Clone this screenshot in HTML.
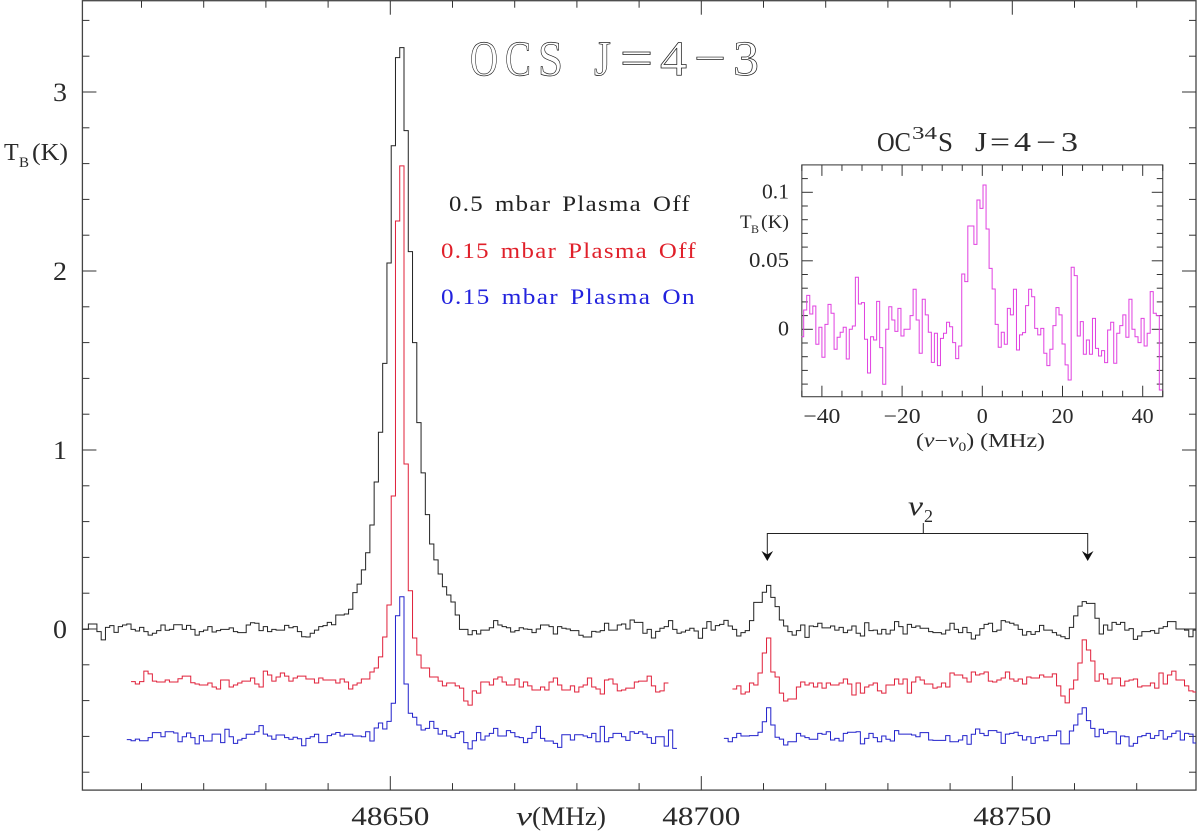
<!DOCTYPE html>
<html lang="en">
<head>
<meta charset="utf-8">
<title>OCS J=4-3 spectra</title>
<style>
html,body{margin:0;padding:0;background:#fff;}
#chart{display:block;width:1200px;height:832px;}
text{font-family:"Liberation Serif","DejaVu Serif",serif;fill:#2a2a2a;}
.hollow{fill:#fff;stroke:#222;stroke-width:.7;}
.spaced{letter-spacing:1.2px;word-spacing:3px;}
</style>
</head>
<body>
<svg id="chart" xmlns="http://www.w3.org/2000/svg" width="1200" height="832" viewBox="0 0 1200 832">
  <defs>
    <clipPath id="main-clip"><rect x="82.5" y="0" width="1113.5" height="791"></rect></clipPath>
    <clipPath id="inset-clip"><rect x="801.3" y="164.7" width="361.4" height="232"></rect></clipPath>
  </defs>
  <rect x="0" y="0" width="1200" height="832" fill="#fff"></rect>
  <g id="main-axes"></g>
  <g id="main-series" clip-path="url(#main-clip)"></g>
  <g id="inset-axes"></g>
  <g id="inset-series" clip-path="url(#inset-clip)"></g>

  <g font-size="50">
    <text class="hollow" x="470" y="75" textLength="28" lengthAdjust="spacingAndGlyphs">O</text>
    <text class="hollow" x="505" y="75" textLength="26" lengthAdjust="spacingAndGlyphs">C</text>
    <text class="hollow" x="538" y="75" textLength="25" lengthAdjust="spacingAndGlyphs">S</text>
    <text class="hollow" x="594" y="75" textLength="17" lengthAdjust="spacingAndGlyphs">J</text>
    <text class="hollow" x="620" y="75" textLength="33" lengthAdjust="spacingAndGlyphs">=</text>
    <text class="hollow" x="660" y="75" textLength="27" lengthAdjust="spacingAndGlyphs">4</text>
    <text class="hollow" x="694" y="75" textLength="32" lengthAdjust="spacingAndGlyphs">−</text>
    <text class="hollow" x="733" y="75" textLength="26" lengthAdjust="spacingAndGlyphs">3</text>
  </g>

  <text class="spaced" x="449" y="211" font-size="22" textLength="242" lengthAdjust="spacingAndGlyphs" style="fill:#222">0.5 mbar Plasma Off</text>
  <text class="spaced" x="441" y="258" font-size="22" textLength="256" lengthAdjust="spacingAndGlyphs" style="fill:#e0202a">0.15 mbar Plasma Off</text>
  <text class="spaced" x="441" y="304" font-size="22" textLength="255" lengthAdjust="spacingAndGlyphs" style="fill:#2222dd">0.15 mbar Plasma On</text>

  <g>
    <text x="4" y="160" font-size="24">T</text>
    <text x="19" y="167" font-size="15">B</text>
    <text x="32" y="160" font-size="24" textLength="36" lengthAdjust="spacingAndGlyphs">(K)</text>
  </g>
  <g>
    <text x="516" y="825" font-size="26" font-style="italic" textLength="16" lengthAdjust="spacingAndGlyphs">ν</text>
    <text x="532" y="825" font-size="26" textLength="74" lengthAdjust="spacingAndGlyphs">(MHz)</text>
  </g>

  <g font-size="27">
    <text x="877" y="151" textLength="34" lengthAdjust="spacingAndGlyphs">OC</text>
    <text x="912" y="139" font-size="18" textLength="25" lengthAdjust="spacingAndGlyphs">34</text>
    <text x="938" y="151" textLength="15" lengthAdjust="spacingAndGlyphs">S</text>
    <text x="975" y="151" textLength="12" lengthAdjust="spacingAndGlyphs">J</text>
    <text x="990" y="151" textLength="20" lengthAdjust="spacingAndGlyphs">=</text>
    <text x="1014" y="151" textLength="17" lengthAdjust="spacingAndGlyphs">4</text>
    <text x="1036" y="151" textLength="20" lengthAdjust="spacingAndGlyphs">−</text>
    <text x="1061" y="151" textLength="17" lengthAdjust="spacingAndGlyphs">3</text>
  </g>
  <g>
    <text x="740" y="228" font-size="19">T</text>
    <text x="751" y="233" font-size="12">B</text>
    <text x="761" y="228" font-size="19" textLength="28" lengthAdjust="spacingAndGlyphs">(K)</text>
  </g>
  <g>
    <text x="916" y="447" font-size="20" textLength="129" lengthAdjust="spacingAndGlyphs"><tspan>(</tspan><tspan font-style="italic">ν</tspan><tspan>−</tspan><tspan font-style="italic">ν</tspan><tspan font-size="13" dy="4">0</tspan><tspan dy="-4">) (MHz)</tspan></text>
  </g>

  <g fill="none" stroke="#222" stroke-width="1">
    <path d="M767.3 555V533.5H1087.7V555M923.3 533.5V523"></path>
    <path d="M767.3 561L761.5 551L767.3 554.5L773.1 551Z" fill="#111" stroke="none"></path>
    <path d="M1087.7 561L1081.9 551L1087.7 554.5L1093.5 551Z" fill="#111" stroke="none"></path>
  </g>
  <g>
    <text x="908" y="515" font-size="27" font-style="italic" textLength="15" lengthAdjust="spacingAndGlyphs">ν</text>
    <text x="924" y="522" font-size="18">2</text>
  </g>
</svg>

<script>
// Main spectrum channels (mK); a channel index is counted from the left of the frequency axis.
const blackValues = [-2,-2,28,28,-15,-61,9,19,-19,13,22,28,-2,-11,9,-15,-34,-24,-9,22,-7,-2,24,24,-2,20,-2,-34,-15,-6,13,-17,-9,-2,-2,6,-15,-20,-20,22,35,32,-9,13,-15,-2,-6,-6,20,7,13,-15,-43,-45,-24,-6,13,19,37,24,78,78,84,110,203,251,
330,426,581,821,1099,1484,2045,2700,3192,3248,2784,2108,1600,1153,872,639,475,386,307,236,190,151,78,
-2,-2,-32,-9,-28,-6,-6,7,47,22,13,7,-17,-9,7,0,-2,-20,0,22,22,13,-28,13,4,0,-9,-9,-35,-45,-45,-13,-17,-9,32,-6,-6,22,28,0,50,37,37,-24,-2,-50,-13,4,13,47,-2,-24,-17,-7,4,-11,
-52,4,41,-6,19,26,48,17,-2,-39,-20,-9,47,149,149,205,244,177,125,50,17,-15,-34,-9,22,-47,17,13,32,6,6,17,-6,9,-20,-6,17,-24,-39,35,-9,-6,-28,-2,-28,-6,41,13,-28,26,9,17,4,4,-15,-20,-20,-28,-6,
32,-2,-20,9,-20,-56,-34,2,26,32,-15,-6,47,39,32,22,-2,-34,-15,-30,-15,20,-6,-6,-20,-34,-43,-54,9,73,128,153,143,143,60,-28,22,-6,37,26,37,-6,2,-58,-39,-15,-15,-9,-24,4,13,41,41,0,0,-6,-43,-6];

const redLeftStart = 12;
const redLeftValues = [-294,-307,-294,-235,-251,-291,-296,-296,-285,-296,-296,-278,-263,-263,-300,-307,-313,-313,-302,-324,-335,-285,-285,-324,-313,-302,-291,-291,-274,-307,-324,-235,-257,-291,-268,-246,-263,-291,-274,-263,-263,-279,-279,-302,-274,-285,-285,-285,-302,-279,-296,-335,-313,-302,-279,-279,-240,-218,-156,
-45,134,743,2279,2587,922,214,-50,-145,-218,-218,-268,-268,-291,-318,-302,-302,-318,-330,-402,-425,-346,-358,-296,-296,-313,-279,-268,-296,-313,-313,-279,-324,-296,-318,-341,-341,-324,-341,-296,-274,-313,-341,-341,-318,-352,-324,-313,-274,-324,-335,-363,-285,-279,-307,-346,-341,-330,-330,-296,-291,-291,-263,-318,-352,-346,-302];

const redRightStart = 153;
const redRightValues = [-335,-318,-363,-352,-302,-313,-246,-134,-50,-240,-268,-358,-402,-391,-391,-324,-296,-313,-302,-324,-302,-330,-302,-313,-313,-302,-279,-307,-369,-302,-358,-324,-313,-302,-346,-358,-313,-313,-279,-307,-279,-358,-296,-268,-285,-307,-307,-330,-324,-302,-324,
-246,-257,-257,-274,-296,-240,-257,-251,-240,-291,-296,-285,-274,-240,-279,-291,-279,-307,-268,-274,-274,-257,-268,-268,-251,-318,-374,-413,-335,-285,-190,-61,-117,-179,-291,-251,-279,-307,-274,-274,-318,-291,-285,-279,-324,-318,-318,-302,-330,-246,-307,-257,-235,-285,-285,-318,-346,-352];

const blueLeftStart = 11;
const blueLeftValues = [-618,-624,-615,-624,-624,-607,-579,-579,-602,-574,-574,-581,-630,-602,-581,-607,-642,-596,-626,-626,-587,-587,-635,-560,-602,-639,-620,-611,-588,-588,-574,-540,-587,-598,-616,-592,-592,-607,-616,-605,-613,-652,-611,-602,-588,-635,-635,-596,-587,-578,-598,-588,-588,-598,-598,-602,-574,-626,
-553,-525,-559,-516,-415,74,180,-307,-471,-493,-536,-564,-555,-516,-555,-587,-568,-598,-607,-583,-574,-635,-670,-624,-579,-620,-598,-583,-555,-598,-598,-568,-579,-602,-607,-635,-611,-579,-544,-611,-626,-626,-639,-661,-591,-591,-620,-591,-591,-598,-607,-583,-630,-544,-630,-607,-583,-583,-602,-622,-574,-583,-574,-587,-607,-639,-602,-602,-654,-564,-667];

const blueRightStart = 151;
const blueRightValues = [-611,-630,-607,-583,-598,-598,-596,-596,-577,-518,-440,-536,-605,-615,-648,-630,-630,-583,-598,-607,-616,-616,-583,-588,-574,-620,-611,-626,-583,-577,-577,-574,-642,-611,-583,-607,-630,-598,-616,-626,-568,-587,-587,-587,-592,-602,-579,-579,-620,-622,-622,-622,-596,
-630,-630,-620,-596,-644,-588,-559,-583,-596,-568,-568,-577,-639,-587,-583,-577,-596,-620,-602,-639,-607,-602,-624,-596,-596,-570,-642,-642,-570,-536,-475,-440,-512,-555,-602,-560,-583,-574,-574,-642,-598,-602,-654,-639,-602,-596,-583,-611,-596,-568,-615,-602,-583,-570,-620,-583,-587,-637];

// Inset OC34S spectrum (mK).
const insetValues = [-5.4,14.1,24.8,11.2,17.0,-10.9,1.5,-20.4,3.6,18.2,11.7,-14.6,-5.8,-2.2,1.5,-21.7,0,2.4,38.0,18.5,19.5,-7.3,-31.9,-5.4,-7.8,20.4,-13.4,-40.1,0,16.5,6.8,-1.5,15.3,-4.9,0,0,10.0,29.2,6.8,-17.5,21.9,10.5,-2.2,-24.1,-2.9,-26.5,-6.6,-2.9,5.1,1.9,-9.7,-21.4,-12.2,
40.4,34.8,75.4,75.4,62.0,94.4,88.3,105.3,73.2,44.5,29.4,3.6,-13.1,-2.2,-10.9,15.3,10.5,29.2,-15.1,-4.1,-2.4,17.3,29.2,23.8,0.7,-4.1,0.7,-17.5,-26.5,-14.6,2.7,15.8,10.5,-10.7,-26.0,-37.0,45.3,39.2,-4.9,5.6,-18.2,-7.8,-18.2,8.0,-13.9,-19.5,-15.6,-24.3,-0.5,5.1,-24.8,-2.9,2.7,10.5,-5.8,21.9,0,-5.4,-9.7,8.0,-12.2,-2.9,27.5,11.7,10.0,-44.3];

// Tick values and labels.
const xMajorTicks = [48650, 48700, 48750];
const xMinorTicks = [48610,48620,48630,48640,48660,48670,48680,48690,48710,48720,48730,48740,48760,48770];
const yMajorTicks = [0, 1, 2, 3];
const yMinorTicks = [-0.8,-0.6,-0.4,-0.2,0.2,0.4,0.6,0.8,1.2,1.4,1.6,1.8,2.2,2.4,2.6,2.8,3.2,3.4];
const insetXMajorTicks = [-40, -20, 0, 20, 40];
const insetXMinorTicks = [-45,-35,-30,-25,-15,-10,-5,5,10,15,25,30,35,45];
const insetYMajorTicks = [0, 0.05, 0.1];
const insetYMinorTicks = [-0.04,-0.03,-0.02,-0.01,0.01,0.02,0.03,0.04,0.06,0.07,0.08,0.09,0.11];
const insetYLabels = ["0", "0.05", "0.1"];
const insetXLabels = ["−40", "−20", "0", "20", "40"];

const SVGNS = "http://www.w3.org/2000/svg";
const CHANNEL_START_MHZ = 48600.09;
const CHANNEL_WIDTH_MHZ = 0.6857;
const INSET_START_MHZ = -45.3;
const INSET_WIDTH_MHZ = 0.758;

function xMain(f) { return 390.3 + (f - 48650) * 6.22; }
function yMain(k) { return 629 - k * 179; }
function xInset(f) { return 982.3 + f * 4.01; }
function yInset(k) { return 329.3 - k * 1370; }

const frame = { left: xMain(48600.5), right: 1196, top: yMain(3.51), bottom: yMain(-0.9) };
const inFrame = { left: xInset(-45), right: xInset(45), top: yInset(0.12), bottom: yInset(-0.0492) };

function stepPath(values, startIndex, xFn, yFn, start, width) {
  let d = "";
  values.forEach(function (mk, i) {
    const x0 = xFn(start + (startIndex + i) * width);
    const x1 = xFn(start + (startIndex + i + 1) * width);
    const y = yFn(mk / 1000).toFixed(2);
    d += (i === 0 ? "M" + x0.toFixed(2) + " " + y : "V" + y) + "H" + x1.toFixed(2);
  });
  return d;
}

function make(tag, parent, attrs) {
  const el = document.createElementNS(SVGNS, tag);
  Object.keys(attrs).forEach(function (k) { el.setAttribute(k, attrs[k]); });
  parent.appendChild(el);
  return el;
}

const mainSeries = document.getElementById("main-series");
const insetSeries = document.getElementById("inset-series");
const mainAxes = document.getElementById("main-axes");
const insetAxes = document.getElementById("inset-axes");

function addSeries(parent, d, color, name) {
  const p = make("path", parent, { d: d, fill: "none", stroke: color, "stroke-width": 1 });
  
  
}

addSeries(mainSeries, stepPath(blackValues, 0, xMain, yMain, CHANNEL_START_MHZ, CHANNEL_WIDTH_MHZ), "#222", "series-0-5-mbar-plasma-off");
addSeries(mainSeries, stepPath(redLeftValues, redLeftStart, xMain, yMain, CHANNEL_START_MHZ, CHANNEL_WIDTH_MHZ), "#e0203a", "series-0-15-mbar-plasma-off-left");
addSeries(mainSeries, stepPath(redRightValues, redRightStart, xMain, yMain, CHANNEL_START_MHZ, CHANNEL_WIDTH_MHZ), "#e0203a", "series-0-15-mbar-plasma-off-right");
addSeries(mainSeries, stepPath(blueLeftValues, blueLeftStart, xMain, yMain, CHANNEL_START_MHZ, CHANNEL_WIDTH_MHZ), "#2222cc", "series-0-15-mbar-plasma-on-left");
addSeries(mainSeries, stepPath(blueRightValues, blueRightStart, xMain, yMain, CHANNEL_START_MHZ, CHANNEL_WIDTH_MHZ), "#2222cc", "series-0-15-mbar-plasma-on-right");
addSeries(insetSeries, stepPath(insetValues, 0, xInset, yInset, INSET_START_MHZ, INSET_WIDTH_MHZ), "#e040e0", "series-oc34s");

function addFrame(parent, f, width, name) {
  const r = make("rect", parent, { x: f.left, y: f.top, width: f.right - f.left, height: f.bottom - f.top, fill: "none", stroke: "#444", "stroke-width": width });
  
  
}
addFrame(mainAxes, frame, 1.3, "main-plot-frame");
addFrame(insetAxes, inFrame, 1.1, "inset-plot-frame");

function addXTicks(parent, ticks, xFn, f, len, name) {
  ticks.forEach(function (t) {
    const x = xFn(t);
    const a = make("line", parent, { x1: x, x2: x, y1: f.bottom, y2: f.bottom - len, stroke: "#333", "stroke-width": 1 });
    
    
    const b = make("line", parent, { x1: x, x2: x, y1: f.top, y2: f.top + len, stroke: "#333", "stroke-width": 1 });
    
    
  });
}
function addYTicks(parent, ticks, yFn, f, len, name) {
  ticks.forEach(function (t) {
    const y = yFn(t);
    const a = make("line", parent, { x1: f.left, x2: f.left + len, y1: y, y2: y, stroke: "#333", "stroke-width": 1 });
    
    
    const b = make("line", parent, { x1: f.right, x2: f.right - len, y1: y, y2: y, stroke: "#333", "stroke-width": 1 });
    
    
  });
}
addXTicks(mainAxes, xMajorTicks, xMain, frame, 14, "x-major-tick");
addXTicks(mainAxes, xMinorTicks, xMain, frame, 7, "x-minor-tick");
addYTicks(mainAxes, yMajorTicks, yMain, frame, 14, "y-major-tick");
addYTicks(mainAxes, yMinorTicks, yMain, frame, 7, "y-minor-tick");
addXTicks(insetAxes, insetXMajorTicks, xInset, inFrame, 11, "inset-x-major-tick");
addXTicks(insetAxes, insetXMinorTicks, xInset, inFrame, 6, "inset-x-minor-tick");
addYTicks(insetAxes, insetYMajorTicks, yInset, inFrame, 11, "inset-y-major-tick");
addYTicks(insetAxes, insetYMinorTicks, yInset, inFrame, 6, "inset-y-minor-tick");

function addLabel(parent, str, x, y, size, anchor, spread, name) {
  const t = make("text", parent, { x: x, y: y, "font-size": size, "text-anchor": anchor });
  if (spread) {
    t.setAttribute("textLength", spread);
    t.setAttribute("lengthAdjust", "spacingAndGlyphs");
  }
  t.textContent = str;
  
  
}
xMajorTicks.forEach(function (t) {
  addLabel(mainAxes, String(t), xMain(t), 825, 26, "middle", 78, "x-tick-label");
});
yMajorTicks.forEach(function (t) {
  addLabel(mainAxes, String(t), 67, yMain(t) + 9, 26, "end", 14, "y-tick-label");
});
insetXMajorTicks.forEach(function (t, i) {
  const s = insetXLabels[i];
  const spread = s.length === 3 ? 37 : (s.length === 2 ? 22 : 11);
  addLabel(insetAxes, s, xInset(t), 423, 21, "middle", spread, "inset-x-tick-label");
});
insetYMajorTicks.forEach(function (t, i) {
  const s = insetYLabels[i];
  const spread = s.length === 4 ? 40 : (s.length === 3 ? 27 : 11);
  addLabel(insetAxes, s, 789, yInset(t) + 6, 21, "end", spread, "inset-y-tick-label");
});
</script>
</body>
</html>
